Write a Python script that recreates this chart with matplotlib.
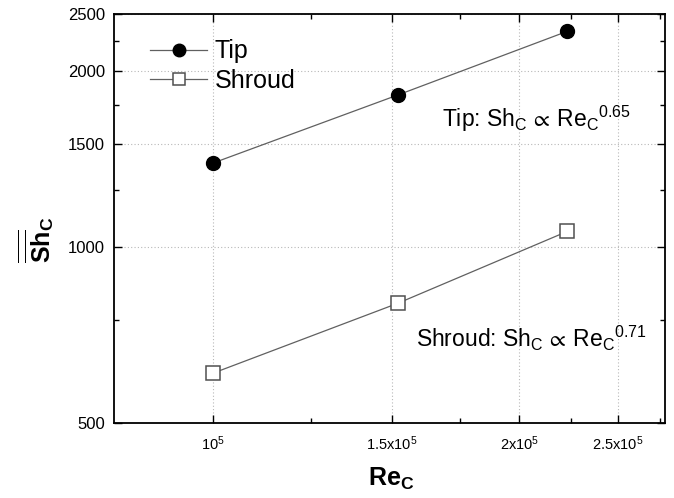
import matplotlib
matplotlib.use('Agg')
import matplotlib.pyplot as plt
from matplotlib.ticker import FixedLocator, FixedFormatter, NullFormatter

plt.rcParams['font.family'] = ['Liberation Sans', 'DejaVu Sans']
plt.rcParams['mathtext.fontset'] = 'custom'
plt.rcParams['mathtext.rm'] = 'Liberation Sans'
plt.rcParams['mathtext.bf'] = 'Liberation Sans:bold'
plt.rcParams['mathtext.it'] = 'Liberation Sans:italic'
plt.rcParams['mathtext.sf'] = 'Liberation Sans'
plt.rcParams['mathtext.fallback'] = 'stixsans'

# Reynolds number and averaged Sherwood number
re_c = [1.0e5, 1.52e5, 2.23e5]
sh_tip = [1390, 1818, 2336]
sh_shroud = [608, 801, 1063]

x_major = [1.0e5, 1.5e5, 2.0e5, 2.5e5]
x_major_labels = [r'$\mathregular{10^5}$', r'$\mathregular{1.5x10^5}$',
                  r'$\mathregular{2x10^5}$', r'$\mathregular{2.5x10^5}$']
x_minor = [1.25e5, 1.75e5, 2.25e5, 2.75e5]
y_major = [500, 1000, 1500, 2000, 2500]
y_major_labels = ['500', '1000', '1500', '2000', '2500']
y_minor = [750, 1250, 1750, 2250]

fig = plt.figure(figsize=(6.74, 4.98), dpi=100)
ax = fig.add_axes([114/674, 75/498, 551/674, 409/498])
ax.set_xscale('log')
ax.set_yscale('log')
ax.set_xlim(8e4, 2.78e5)
ax.set_ylim(500, 2500)

line_col = '#606060'
ax.plot(re_c, sh_tip, '-', color=line_col, lw=0.9, marker='o', ms=10,
        mfc='black', mec='black', label='Tip', zorder=3)
ax.plot(re_c, sh_shroud, '-', color=line_col, lw=0.9, marker='s', ms=9.5,
        mfc='white', mec='#505050', mew=1.1, label='Shroud', zorder=3)

ax.xaxis.set_major_locator(FixedLocator(x_major))
ax.xaxis.set_major_formatter(FixedFormatter(x_major_labels))
ax.xaxis.set_minor_locator(FixedLocator(x_minor))
ax.xaxis.set_minor_formatter(NullFormatter())
ax.yaxis.set_major_locator(FixedLocator(y_major))
ax.yaxis.set_major_formatter(FixedFormatter(y_major_labels))
ax.yaxis.set_minor_locator(FixedLocator(y_minor))
ax.yaxis.set_minor_formatter(NullFormatter())

ax.tick_params(which='both', direction='in', top=True, right=True, color='black')
ax.tick_params(which='major', length=6, width=1.0)
ax.tick_params(which='minor', length=3.5, width=1.0)
ax.tick_params(axis='x', which='major', labelsize=10.5, pad=8)
ax.tick_params(axis='y', which='major', labelsize=12, pad=6.5, colors='black')
for s in ax.spines.values():
    s.set_linewidth(1.3)

ax.grid(which='major', ls=(0, (1, 2)), color='#b8b8b8', lw=0.8)

leg = ax.legend(loc='upper left', bbox_to_anchor=(0.065, 0.938), frameon=False,
                fontsize=18, handlelength=2.3, handletextpad=0.3,
                labelspacing=0.22, borderaxespad=0, borderpad=0, markerscale=0.9)

ax.text(0.595, 0.7237,
        r'Tip: $\mathregular{Sh_C\,\propto\,Re_C{}^{0.65}}$',
        transform=ax.transAxes, fontsize=16.5, va='baseline', ha='left')
ax.text(0.548, 0.1858,
        r'Shroud: $\mathregular{Sh_C\,\propto\,Re_C{}^{0.71}}$',
        transform=ax.transAxes, fontsize=16.5, va='baseline', ha='left')

fig.text(36/674, 1 - 240/498, r'$\mathbf{\overline{\overline{Sh}}_C}$',
         rotation=90, ha='center', va='center', fontsize=18)
fig.text(391/674, 1 - 479/498, r'$\mathbf{Re_C}$',
         ha='center', va='center', fontsize=18)

fig.savefig('out.png', dpi=100)
